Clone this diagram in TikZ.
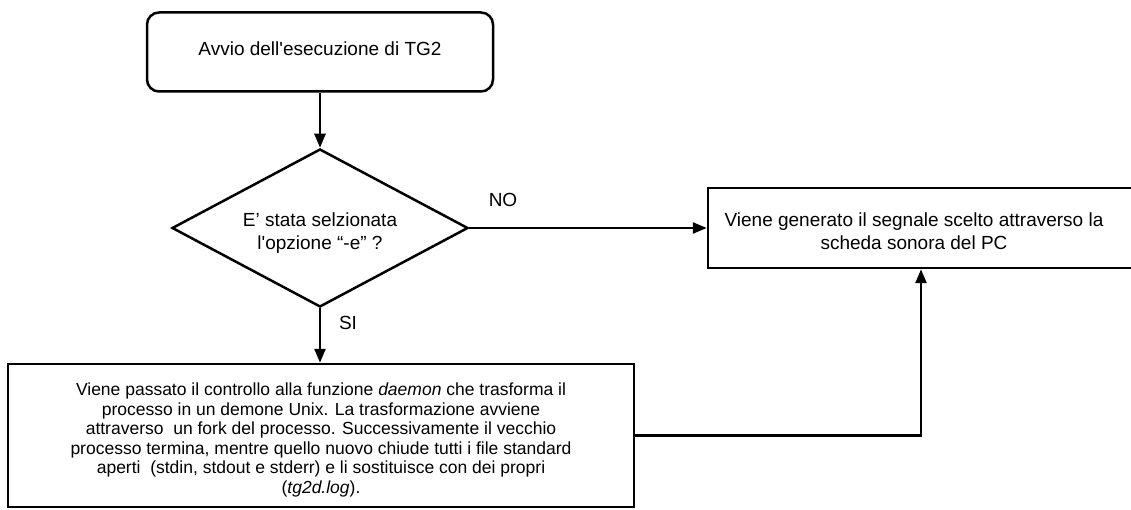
\documentclass[tikz,border=0pt]{standalone}
\usepackage{fontspec}
\newfontfamily\lib{Liberation Sans}
\usetikzlibrary{arrows.meta,shapes.geometric}
\begin{document}
\begin{tikzpicture}[x=1pt,y=-1pt,
  outline/.style={draw, line width=2.5pt, inner sep=0pt},
  arr/.style={draw, line width=2.5pt, -{Triangle[length=14pt,width=11pt]}},
  txt/.style={font=\lib\fontsize{19}{23}\selectfont, align=center, inner sep=0pt},
  smalltxt/.style={font=\lib\fontsize{17.5}{19.6}\selectfont, align=center, inner sep=0pt}]
\useasboundingbox (0,0) rectangle (1131,510);
% boxes
\node[outline, rounded corners=12pt, minimum width=346pt, minimum height=79pt] (start) at (320,52) {};
\node[txt] (startlab) at (320,49) {Avvio dell'esecuzione di TG2};
\node[outline, diamond, aspect=1.87, minimum width=296pt, minimum height=158pt] (dec) at (320,228) {};
\node[txt] (declab) at (320,233) {E’ stata selzionata\\l'opzione “-e” ?};
\node[outline, minimum width=426pt, minimum height=80pt] (gen) at (921,228) {};
\node[txt] (genlab) at (914,231) {Viene generato il segnale scelto attraverso la\\scheda sonora del PC};
\node[outline, minimum width=626pt, minimum height=143pt] (dmn) at (321,435.5) {};
\node[smalltxt] (dmnlab) at (321,440) {Viene passato il controllo alla funzione \textit{daemon} che trasforma il\\
processo in un demone Unix. La trasformazione avviene\\
attraverso\ \ un fork del processo. Successivamente il vecchio\\
processo termina, mentre quello nuovo chiude tutti i file standard\\
aperti\ \ (stdin, stdout e stderr) e li sostituisce con dei propri\\
(\textit{tg2d.log}).};
% connectors
\draw[arr] (start.south) -- (dec.north);
\draw[arr] (dec.east) -- (gen.west);
\draw[arr] (dec.south) -- (dec.south |- dmn.north);
\draw[arr] (dmn.east) -- (dmn.east -| gen.south) -- (gen.south);
% labels
\node[txt] (no) at (503,200) {NO};
\node[txt] (si) at (348,323) {SI};
\end{tikzpicture}
\end{document}
